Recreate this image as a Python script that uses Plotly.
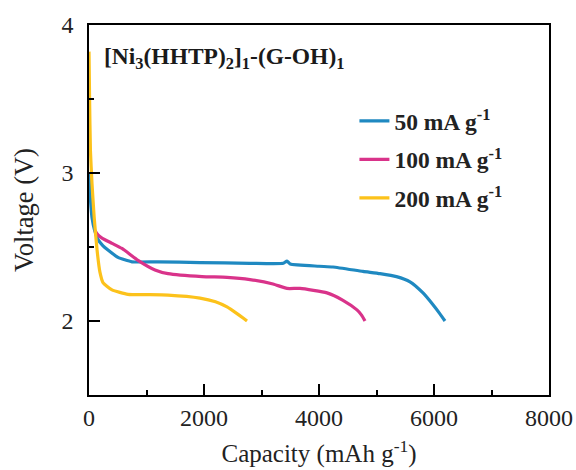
import plotly.graph_objects as go

# Data
cap_50 = [0, 20, 52, 100, 157, 240, 330, 504, 748, 1200, 1930, 2800, 3380, 3443, 3500, 4000, 4243, 4765, 5061, 5348, 5583, 5809, 5983, 6100, 6191]
v_50 = [3.0, 2.85, 2.70, 2.61, 2.55, 2.51, 2.48, 2.43, 2.40, 2.40, 2.395, 2.39, 2.39, 2.405, 2.385, 2.37, 2.365, 2.335, 2.32, 2.30, 2.265, 2.19, 2.11, 2.05, 2.0]

cap_100 = [104, 160, 226, 400, 574, 852, 1148, 1374, 1965, 2400, 2800, 3200, 3443, 3670, 4139, 4417, 4660, 4740, 4800]
v_100 = [2.61, 2.58, 2.56, 2.525, 2.49, 2.41, 2.345, 2.32, 2.30, 2.295, 2.28, 2.25, 2.22, 2.22, 2.19, 2.14, 2.075, 2.04, 2.0]

cap_200 = [0, 10, 25, 52, 90, 140, 190, 243, 400, 678, 1000, 1374, 1930, 2200, 2400, 2574, 2680, 2748]
v_200 = [3.82, 3.5, 3.15, 2.93, 2.70, 2.48, 2.33, 2.26, 2.21, 2.18, 2.178, 2.175, 2.155, 2.13, 2.095, 2.05, 2.02, 2.0]

labels = ["50 mA g<sup>-1</sup>", "100 mA g<sup>-1</sup>", "200 mA g<sup>-1</sup>"]
colors = ["#1f89c1", "#d9338a", "#fcc21b"]

x_ticks = [0, 2000, 4000, 6000, 8000]
y_ticks = [2, 3, 4]

fig = go.Figure()
for cx, vy, lab, col in zip([cap_50, cap_100, cap_200], [v_50, v_100, v_200], labels, colors):
    fig.add_trace(go.Scatter(x=cx, y=vy, mode="lines", name=lab, legendgroup=lab,
                             line=dict(color=col, width=3.2, shape="spline", smoothing=0.5)))

font_family = "Liberation Serif"
axis_common = dict(showline=True, linecolor="black", linewidth=1.5, mirror=True,
                   ticks="inside", ticklen=11, tickwidth=1.5, tickcolor="black",
                   showgrid=False, zeroline=False, automargin=False,
                   tickfont=dict(family=font_family, size=24, color="#222"))

fig.update_layout(
    width=576, height=470,
    margin=dict(l=89, r=27, t=25, b=75),
    plot_bgcolor="white", paper_bgcolor="white",
    xaxis=dict(range=[0, 8000], tickvals=x_ticks, ticktext=[str(t) for t in x_ticks],
               minor=dict(ticks="inside", ticklen=5, tickwidth=1.5, tickcolor="black", dtick=1000, showgrid=False),
               title=dict(text="Capacity (mAh g<sup>-1</sup>)", font=dict(family=font_family, size=25, color="#222"), standoff=15),
               **axis_common),
    yaxis=dict(range=[1.5, 4], tickvals=y_ticks, ticktext=[str(t) for t in y_ticks],
               ticklabelstandoff=9,
               minor=dict(ticks="inside", ticklen=5, tickwidth=1.5, tickcolor="black", dtick=0.5, showgrid=False),
               title=dict(text="Voltage (V)", font=dict(family=font_family, size=26.5, color="#222"), standoff=20),
               **axis_common),
    legend=dict(x=0.577, y=0.80, xanchor="left", yanchor="top", bgcolor="rgba(0,0,0,0)",
                font=dict(family=font_family, size=23.5, color="#222", weight="bold"),
                tracegroupgap=5, itemwidth=30),
    showlegend=True,
)

fig.add_annotation(xref="paper", yref="paper", x=0.028, y=0.91, xanchor="left", yanchor="middle",
                   text="<b>[Ni<sub>3</sub>(HHTP)<sub>2</sub>]<sub>1</sub>-(G-OH)<sub>1</sub></b>",
                   showarrow=False, font=dict(family=font_family, size=23.5, color="#1a1a1a"))

fig.write_html("out.html")
